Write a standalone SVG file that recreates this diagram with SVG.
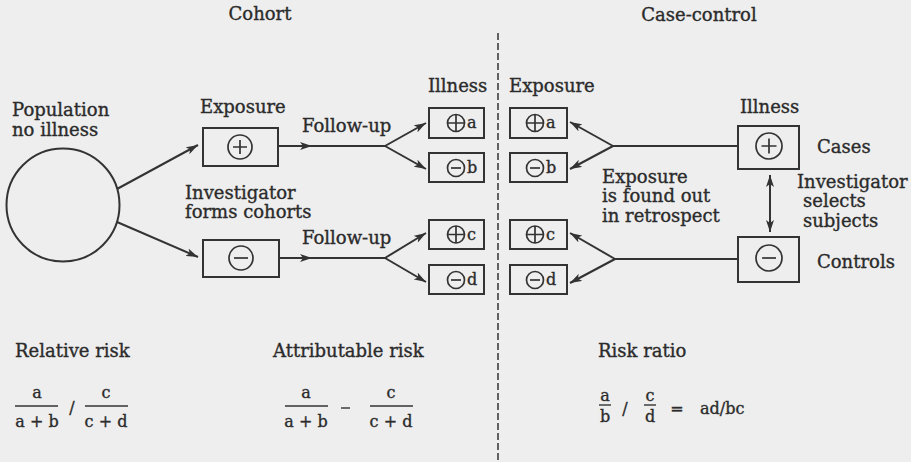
<svg xmlns="http://www.w3.org/2000/svg" width="911" height="462" viewBox="0 0 911 462">
<defs>
<style>
text{font-family:"DejaVu Serif","Liberation Serif",serif;font-size:18px;fill:#2b2b2b;stroke:#2b2b2b;stroke-width:0.35}
.t{font-size:18px}
.f{font-size:16px}
.bx{fill:none;stroke:#333;stroke-width:2}
.sym{fill:none;stroke:#333;stroke-width:1.7}
.ln{fill:none;stroke:#333;stroke-width:2}
.fr{stroke:#333;stroke-width:1.4}
</style>
<marker id="ah" viewBox="0 0 12 8" refX="12" refY="4" markerWidth="12" markerHeight="8" markerUnits="userSpaceOnUse" orient="auto">
<path d="M0,0 L12,4 L0,8 L3,4 Z" fill="#333"/>
</marker>
<marker id="ahs" viewBox="0 0 12 8" refX="12" refY="4" markerWidth="12" markerHeight="8" markerUnits="userSpaceOnUse" orient="auto-start-reverse">
<path d="M0,0 L12,4 L0,8 L3,4 Z" fill="#333"/>
</marker>
</defs>
<rect width="911" height="462" fill="#eeeeee"/>

<g id="titles">
<text x="260" y="20" text-anchor="middle" class="t">Cohort</text>
<text x="699" y="21" text-anchor="middle" class="t">Case-control</text>
</g>
<line x1="498" y1="33" x2="498" y2="462" stroke="#333" stroke-width="1.5" stroke-dasharray="7,3"/>

<g id="population">
<circle cx="63" cy="205" r="56.5" class="bx"/>
<text x="12" y="116">Population</text>
<text x="12" y="136">no illness</text>
</g>

<g id="exp-pos">
<text x="200" y="113">Exposure</text>
<rect x="203" y="128" width="75" height="38" class="bx"/>
<circle cx="240" cy="147" r="12" class="sym"/>
<path d="M233,147 H247 M240,140 V154" class="sym"/>
</g>
<g id="investigator-label">
<text x="185" y="199">Investigator</text>
<text x="185" y="218">forms cohorts</text>
</g>
<g id="exp-neg">
<rect x="203" y="240" width="76" height="37" class="bx"/>
<circle cx="241" cy="258" r="12" class="sym"/>
<path d="M234,258 H248" class="sym"/>
</g>

<g id="followup-labels">
<text x="302" y="132">Follow-up</text>
<text x="302" y="244">Follow-up</text>
</g>

<g id="cohort-illness">
<text x="428" y="92">Illness</text>
<g id="ca">
<rect x="429" y="108" width="55" height="30" class="bx"/>
<circle cx="456" cy="123" r="8.5" class="sym"/><path d="M447.5,123 H464.5 M456,114.5 V131.5" class="sym"/>
<text x="467" y="128" class="f">a</text>
</g>
<g id="cb">
<rect x="429" y="153" width="55" height="29" class="bx"/>
<circle cx="456" cy="168" r="8.5" class="sym"/><path d="M451,168 H461" class="sym"/>
<text x="467" y="173" class="f">b</text>
</g>
<g id="cc">
<rect x="429" y="220" width="55" height="29" class="bx"/>
<circle cx="456" cy="234.5" r="8.5" class="sym"/><path d="M447.5,234.5 H464.5 M456,226 V243" class="sym"/>
<text x="467" y="239.5" class="f">c</text>
</g>
<g id="cd">
<rect x="429" y="265" width="55" height="29" class="bx"/>
<circle cx="456" cy="280" r="8.5" class="sym"/><path d="M451,280 H461" class="sym"/>
<text x="467" y="285" class="f">d</text>
</g>
</g>

<g id="cc-exposure">
<text x="509" y="92">Exposure</text>
<g id="xa">
<rect x="510" y="108" width="57" height="30" class="bx"/>
<circle cx="535" cy="123" r="8.5" class="sym"/><path d="M526.5,123 H543.5 M535,114.5 V131.5" class="sym"/>
<text x="546" y="128" class="f">a</text>
</g>
<g id="xb">
<rect x="510" y="153" width="57" height="29" class="bx"/>
<circle cx="535" cy="168" r="8.5" class="sym"/><path d="M530,168 H540" class="sym"/>
<text x="546" y="173" class="f">b</text>
</g>
<g id="xc">
<rect x="510" y="220" width="57" height="29" class="bx"/>
<circle cx="535" cy="234.5" r="8.5" class="sym"/><path d="M526.5,234.5 H543.5 M535,226 V243" class="sym"/>
<text x="546" y="239.5" class="f">c</text>
</g>
<g id="xd">
<rect x="510" y="265" width="57" height="29" class="bx"/>
<circle cx="535" cy="280" r="8.5" class="sym"/><path d="M530,280 H540" class="sym"/>
<text x="546" y="285" class="f">d</text>
</g>
</g>

<g id="retro-label">
<text x="602" y="183">Exposure</text>
<text x="602" y="202">is found out</text>
<text x="602" y="222">in retrospect</text>
</g>

<g id="cases">
<text x="740" y="113">Illness</text>
<rect x="738" y="126" width="61" height="43" class="bx"/>
<circle cx="769" cy="146" r="13" class="sym"/>
<path d="M761.5,146 H776.5 M769,138.5 V153.5" class="sym"/>
<text x="817" y="153">Cases</text>
</g>
<g id="select-label">
<text x="797" y="188">Investigator</text>
<text x="803" y="207">selects</text>
<text x="803" y="227">subjects</text>
</g>
<g id="controls">
<rect x="738" y="237" width="61" height="45" class="bx"/>
<circle cx="769" cy="258" r="13" class="sym"/>
<path d="M762,258 H776" class="sym"/>
<text x="817" y="268">Controls</text>
</g>

<g id="connectors">
<line x1="117" y1="189" x2="198" y2="145" class="ln" marker-end="url(#ah)"/>
<line x1="117" y1="222" x2="198" y2="257" class="ln" marker-end="url(#ah)"/>
<line x1="278" y1="146" x2="312" y2="146" class="ln" marker-end="url(#ah)"/>
<line x1="310" y1="146" x2="385" y2="146" class="ln"/>
<line x1="385" y1="146" x2="426" y2="123" class="ln" marker-end="url(#ah)"/>
<line x1="385" y1="146" x2="426" y2="169" class="ln" marker-end="url(#ah)"/>
<line x1="279" y1="258" x2="312" y2="258" class="ln" marker-end="url(#ah)"/>
<line x1="310" y1="258" x2="385" y2="258" class="ln"/>
<line x1="385" y1="258" x2="426" y2="233" class="ln" marker-end="url(#ah)"/>
<line x1="385" y1="258" x2="426" y2="282" class="ln" marker-end="url(#ah)"/>
<line x1="738" y1="146" x2="613" y2="146" class="ln"/>
<line x1="613" y1="146" x2="570" y2="122" class="ln" marker-end="url(#ah)"/>
<line x1="613" y1="146" x2="570" y2="169" class="ln" marker-end="url(#ah)"/>
<line x1="738" y1="259" x2="615" y2="259" class="ln"/>
<line x1="615" y1="259" x2="570" y2="233" class="ln" marker-end="url(#ah)"/>
<line x1="615" y1="259" x2="570" y2="283" class="ln" marker-end="url(#ah)"/>
<line x1="770" y1="175" x2="770" y2="232" class="ln" marker-start="url(#ahs)" marker-end="url(#ah)"/>
</g>

<g id="relative-risk">
<text x="15" y="357">Relative risk</text>
<text x="37" y="398" text-anchor="middle" class="f">a</text>
<line x1="15" y1="406" x2="58" y2="406" class="fr"/>
<text x="37" y="427" text-anchor="middle" class="f">a + b</text>
<text x="72" y="413" text-anchor="middle" class="f">/</text>
<text x="106" y="398" text-anchor="middle" class="f">c</text>
<line x1="85" y1="406" x2="128" y2="406" class="fr"/>
<text x="106" y="427" text-anchor="middle" class="f">c + d</text>
</g>
<g id="attributable-risk">
<text x="273" y="357">Attributable risk</text>
<text x="306" y="398" text-anchor="middle" class="f">a</text>
<line x1="285" y1="406" x2="328" y2="406" class="fr"/>
<text x="306" y="427" text-anchor="middle" class="f">a + b</text>
<line x1="341" y1="408" x2="350" y2="408" class="fr"/>
<text x="391" y="398" text-anchor="middle" class="f">c</text>
<line x1="370" y1="406" x2="413" y2="406" class="fr"/>
<text x="391" y="427" text-anchor="middle" class="f">c + d</text>
</g>
<g id="risk-ratio">
<text x="598" y="357">Risk ratio</text>
<text x="605" y="401" text-anchor="middle" class="f">a</text>
<line x1="599" y1="405" x2="611" y2="405" class="fr"/>
<text x="605" y="422" text-anchor="middle" class="f">b</text>
<text x="625" y="414" text-anchor="middle" class="f">/</text>
<text x="650" y="401" text-anchor="middle" class="f">c</text>
<line x1="644" y1="405" x2="656" y2="405" class="fr"/>
<text x="650" y="422" text-anchor="middle" class="f">d</text>
<text x="677" y="414" text-anchor="middle" class="f">=</text>
<text x="700" y="414" class="f">ad/bc</text>
</g>
</svg>
